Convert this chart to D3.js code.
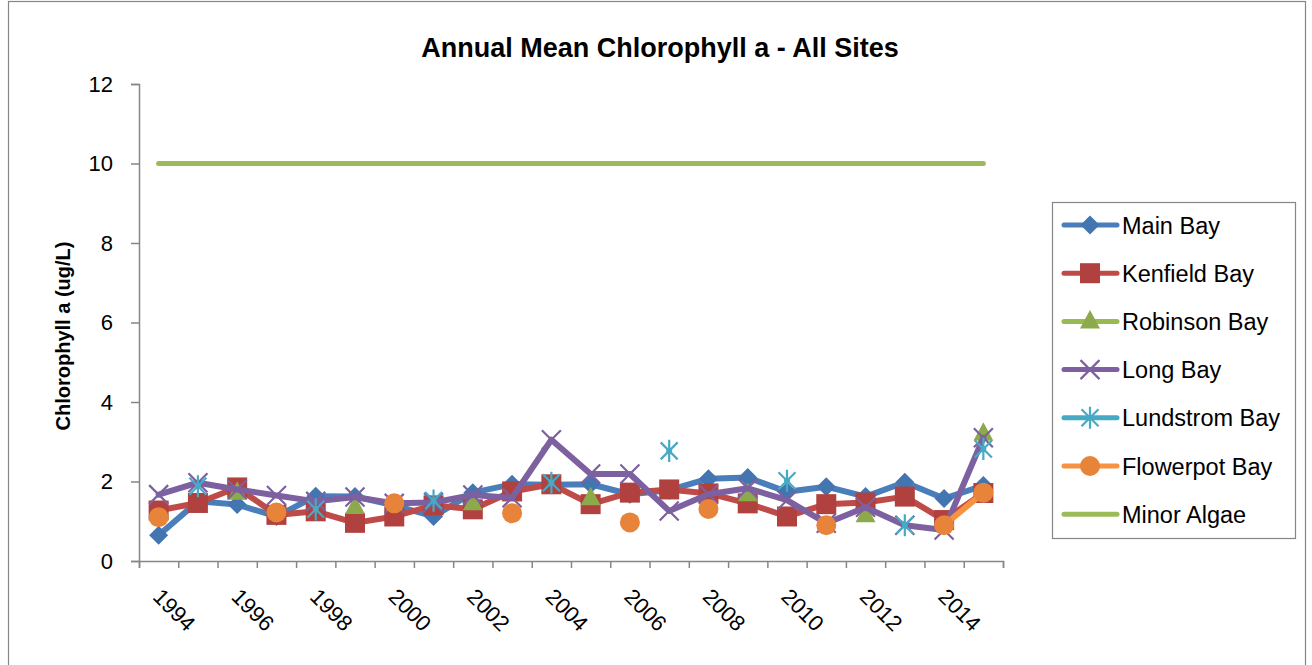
<!DOCTYPE html>
<html>
<head>
<meta charset="utf-8">
<script src="https://cdn.jsdelivr.net/npm/d3@7"></script>
<style>
  body { margin: 0; background: #fff; }
  svg { display: block; font-family: "Liberation Sans", Arial, sans-serif; }
</style>
</head>
<body>
<div id="chart"></div>
<script>
// Data (ug/L), null = no sample that year
const years = d3.range(1994, 2016);
const mainBay   = [0.65, 1.5, 1.42, 1.12, 1.63, 1.62, 1.4, 1.12, 1.72, 1.93, 1.92, 1.93, 1.68, 1.78, 2.07, 2.1, 1.74, 1.87, 1.62, 1.98, 1.57, 1.9];
const kenfield  = [1.27, 1.46, 1.85, 1.16, 1.25, 0.96, 1.12, 1.4, 1.3, 1.75, 1.93, 1.43, 1.72, 1.8, 1.7, 1.45, 1.12, 1.43, 1.47, 1.62, 1.03, 1.71];
const robinson  = [null, null, 1.72, null, null, 1.36, null, null, 1.45, null, null, 1.58, null, null, null, 1.68, null, null, 1.15, null, null, 3.2];
const longBay   = [1.67, 1.97, 1.8, 1.65, 1.5, 1.61, 1.45, 1.47, 1.66, 1.59, 3.05, 2.19, 2.19, 1.26, 1.68, 1.83, 1.53, 0.95, 1.35, 0.9, 0.78, 3.1];
const lundstrom = [null, 1.88, null, null, 1.3, null, null, 1.52, null, null, 1.97, null, null, 2.77, null, null, 2.02, null, null, 0.9, null, 2.82];
const flowerpot = [1.1, null, null, 1.22, null, null, 1.45, null, null, 1.2, null, null, 0.97, null, 1.31, null, null, 0.9, null, null, 0.9, 1.72];
const minorAlgae = years.map(() => 10);
const yTicks = [0, 2, 4, 6, 8, 10, 12];

const series = [
  { name: "Main Bay",      values: mainBay,    color: "#4A7EBB", mark: "#4375B0", shape: "diamond" },
  { name: "Kenfield Bay",  values: kenfield,   color: "#BE4B48", mark: "#B0413E", shape: "square" },
  { name: "Robinson Bay",  values: robinson,   color: "#98B954", mark: "#8CAA4B", shape: "triangle" },
  { name: "Long Bay",      values: longBay,    color: "#7D60A0", mark: "#7D60A0", shape: "x" },
  { name: "Lundstrom Bay", values: lundstrom,  color: "#46AAC5", mark: "#46AAC5", shape: "star" },
  { name: "Flowerpot Bay", values: flowerpot,  color: "#F69240", mark: "#E8843A", shape: "circle" },
  { name: "Minor Algae",   values: minorAlgae, color: "#9BBB59", mark: null,      shape: null }
];

const width = 1312, height = 665;
const plot = { left: 139, right: 1003, top: 84, bottom: 561 };

const svg = d3.select("#chart").append("svg")
  .attr("width", width)
  .attr("height", height);

// outer chart border
svg.append("rect")
  .attr("x", 8.5).attr("y", 1.5)
  .attr("width", 1297).attr("height", 700)
  .attr("fill", "none").attr("stroke", "#868686").attr("stroke-width", 1.2);

const x = d3.scaleBand().domain(years).range([plot.left, plot.right]);
const xc = yr => x(yr) + x.bandwidth() / 2;
const y = d3.scaleLinear().domain([0, 12]).range([plot.bottom, plot.top]);

// title
svg.append("text")
  .attr("x", 660).attr("y", 57)
  .attr("text-anchor", "middle")
  .attr("font-size", 27).attr("font-weight", "bold")
  .text("Annual Mean Chlorophyll a - All Sites");

// y axis
const yAxis = svg.append("g")
  .attr("transform", `translate(${plot.left},0)`)
  .call(d3.axisLeft(y).tickValues(yTicks).tickSize(8).tickPadding(18));
yAxis.selectAll("line, path").attr("stroke", "#868686").attr("stroke-width", 1.5);
yAxis.selectAll("text").attr("font-size", 22).attr("fill", "#000")
  .attr("font-family", "Liberation Sans, Arial, sans-serif");

svg.append("text")
  .attr("transform", "translate(70,336) rotate(-90)")
  .attr("text-anchor", "middle")
  .attr("font-size", 20).attr("font-weight", "bold")
  .text("Chlorophyll a (ug/L)");

// x axis: tick marks between categories, labels every other year
const xIdx = d3.scaleLinear().domain([0, years.length]).range([plot.left, plot.right]);
const xAxis = svg.append("g")
  .attr("transform", `translate(0,${plot.bottom})`)
  .call(d3.axisBottom(xIdx).tickValues(d3.range(0, years.length + 1)).tickSize(7).tickFormat(""));
xAxis.selectAll("line, path").attr("stroke", "#868686").attr("stroke-width", 1.5);

svg.append("g")
  .selectAll("text")
  .data(years.filter(yr => yr % 2 === 0))
  .join("text")
  .attr("transform", d => `translate(${xc(d) - 7},598) rotate(45)`)
  .attr("font-size", 22)
  .text(d => d);

// lines
const line = d3.line()
  .defined(d => d.v != null)
  .x(d => xc(d.yr))
  .y(d => y(d.v));

function markerPath(shape, s) {
  if (shape === "diamond") return `M0,${-s}L${s},0L0,${s}L${-s},0Z`;
  if (shape === "square") return `M${-s},${-s}H${s}V${s}H${-s}Z`;
  if (shape === "triangle") return `M0,${-s * 1.15}L${s},${s * 0.7}L${-s},${s * 0.7}Z`;
  if (shape === "x") return `M${-s},${-s}L${s},${s}M${-s},${s}L${s},${-s}`;
  if (shape === "star") return `M${-s},${-s}L${s},${s}M${-s},${s}L${s},${-s}M0,${-s * 1.3}V${s * 1.3}`;
  return "";
}
const markerSize = { diamond: 9.5, square: 10, triangle: 10, x: 9.5, star: 8.5 };
const strokeShapes = new Set(["x", "star"]);

function drawMarker(g, s, cx, cy) {
  if (s.shape === "circle") {
    g.append("circle").attr("cx", cx).attr("cy", cy).attr("r", 10).attr("fill", s.mark);
  } else if (s.shape) {
    const p = g.append("path")
      .attr("transform", `translate(${cx},${cy})`)
      .attr("d", markerPath(s.shape, markerSize[s.shape]));
    if (strokeShapes.has(s.shape)) p.attr("fill", "none").attr("stroke", s.mark).attr("stroke-width", 2.2);
    else p.attr("fill", s.mark);
  }
}

series.forEach(s => {
  const pts = years.map((yr, i) => ({ yr, v: s.values[i] }));
  const g = svg.append("g");
  g.append("path")
    .datum(pts)
    .attr("d", line)
    .attr("fill", "none")
    .attr("stroke", s.color)
    .attr("stroke-width", s.shape ? 6 : 5)
    .attr("stroke-linejoin", "round")
    .attr("stroke-linecap", "round");
  pts.filter(d => d.v != null).forEach(d => drawMarker(g, s, xc(d.yr), y(d.v)));
});

// legend
const legend = svg.append("g");
legend.append("rect")
  .attr("x", 1052.5).attr("y", 202.5)
  .attr("width", 243).attr("height", 336)
  .attr("fill", "#fff").attr("stroke", "#868686").attr("stroke-width", 1.2);

series.forEach((s, i) => {
  const ly = 225 + i * 48.2;
  const g = legend.append("g");
  g.append("line")
    .attr("x1", 1064).attr("x2", 1117).attr("y1", ly).attr("y2", ly)
    .attr("stroke", s.color).attr("stroke-width", 5).attr("stroke-linecap", "round");
  drawMarker(g, s, 1090, ly);
  g.append("text")
    .attr("x", 1122).attr("y", ly + 8.5)
    .attr("font-size", 23.5)
    .text(s.name);
});
</script>
</body>
</html>
